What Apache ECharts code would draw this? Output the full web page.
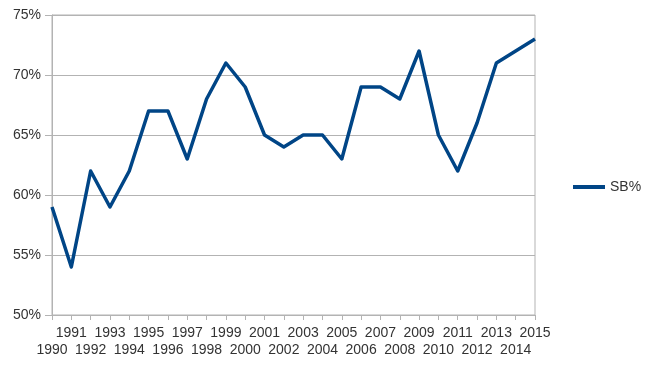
<!DOCTYPE html>
<html><head><meta charset="utf-8">
<script src="https://cdn.jsdelivr.net/npm/echarts@6/dist/echarts.min.js"></script>
<style>html,body{margin:0;padding:0;background:#fff}#c{width:650px;height:365px}</style>
</head><body><div id="c"></div>
<script>
var years = ['1990','1991','1992','1993','1994','1995','1996','1997','1998','1999','2000','2001','2002','2003','2004','2005','2006','2007','2008','2009','2010','2011','2012','2013','2014','2015'];
var sbPct = [59,54,62,59,62,67,67,63,68,71,69,65,64,65,65,63,69,69,68,72,65,62,66,71,72,73];
var seriesName = 'SB%';
var yMin = 50, yMax = 75, yStep = 5;

var FONT = 'Liberation Sans, Arial, sans-serif';
var chart = echarts.init(document.getElementById('c'), null, {renderer:'canvas'});
chart.setOption({
  animation:false,
  backgroundColor:'#fff',
  textStyle:{fontFamily:FONT},
  grid:{left:52,right:115,top:15,bottom:50,show:true,borderColor:'#b3b3b3',borderWidth:1,backgroundColor:'transparent'},
  legend:{
    orient:'vertical', left:568, top:175,
    icon:'rect', itemWidth:32, itemHeight:4,
    textStyle:{fontSize:14,color:'#333',fontFamily:FONT},
    data:[{name:seriesName}]
  },
  xAxis:{
    type:'category', data:years, boundaryGap:false,
    axisLine:{lineStyle:{color:'#b3b3b3',width:1}},
    axisTick:{show:true,interval:0,length:5,lineStyle:{color:'#b3b3b3'}},
    axisLabel:{interval:0,hideOverlap:false,margin:10,fontSize:14,color:'#333',lineHeight:16.5,
      fontFamily:FONT,
      formatter:function(v,i){return i%2===0 ? '\n'+v : v;}},
    splitLine:{show:false}
  },
  yAxis:{
    type:'value', min:yMin, max:yMax, interval:yStep,
    axisLine:{show:true,lineStyle:{color:'#b3b3b3',width:1}},
    axisTick:{show:true,length:7,lineStyle:{color:'#b3b3b3'}},
    axisLabel:{formatter:'{value}%',fontSize:14,color:'#333',margin:11,fontFamily:FONT},
    splitLine:{show:true,lineStyle:{color:'#b3b3b3',width:1}}
  },
  series:[{
    name:seriesName, type:'line', data:sbPct, symbol:'none',
    lineStyle:{color:'#004586',width:3.5, join:'round'},
    itemStyle:{color:'#004586'}
  }]
});
</script></body></html>
